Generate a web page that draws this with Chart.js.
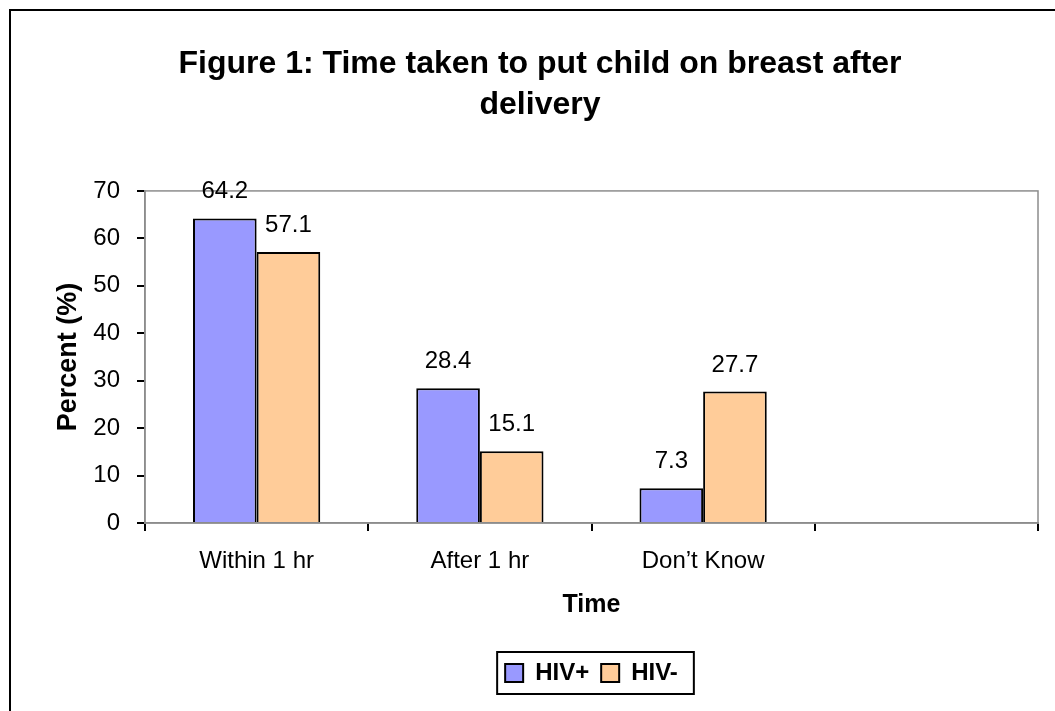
<!DOCTYPE html>
<html>
<head>
<meta charset="utf-8">
<script src="https://cdn.jsdelivr.net/npm/chart.js@4.4.1/dist/chart.umd.min.js"></script>
<style>
  html, body { margin: 0; padding: 0; background: #fff; }
  #wrap { width: 1055px; height: 711px; position: relative; }
</style>
</head>
<body>
<div id="wrap"><canvas id="feedChart"></canvas></div>
<script>
const categories = ['Within 1 hr', 'After 1 hr', 'Don\u2019t Know', ''];
const hivPos = [64.2, 28.4, 7.3, null];
const hivNeg = [57.1, 15.1, 27.7, null];
const titleLines = ['Figure 1: Time taken to put child on breast after', 'delivery'];

const FONT = '"Liberation Sans", Arial, Helvetica, sans-serif';

// outer frame, plot frame, legend box, value labels
const decorations = {
    id: 'decorations',
    afterLayout(chart) {
        // centre the legend under the plot area, not the whole canvas
        const a = chart.chartArea;
        chart.legend.left = a.left;
        chart.legend.right = a.right;
    },
    afterDraw(chart) {
        const ctx = chart.ctx;
        const a = chart.chartArea;
        ctx.save();
        ctx.strokeStyle = '#000';
        ctx.lineWidth = 2;
        ctx.beginPath();
        ctx.moveTo(10, 711);
        ctx.lineTo(10, 10);
        ctx.lineTo(1055, 10);
        ctx.stroke();

        ctx.strokeStyle = '#8c8c8c';
        ctx.lineWidth = 1.5;
        ctx.strokeRect(a.left, a.top, a.right - a.left, a.bottom - a.top);

        const hb = chart.legend.legendHitBoxes;
        if (hb && hb.length) {
            const first = hb[0], last = hb[hb.length - 1];
            ctx.strokeStyle = '#000';
            ctx.lineWidth = 2;
            ctx.strokeRect(first.left - 8, first.top - 9,
                last.left + last.width - first.left + 24, first.height + 18);
        }

        ctx.font = '24px ' + FONT;
        ctx.fillStyle = '#000';
        ctx.textAlign = 'center';
        ctx.textBaseline = 'alphabetic';
        chart.data.datasets.forEach((ds, i) => {
            chart.getDatasetMeta(i).data.forEach((bar, j) => {
                const v = ds.data[j];
                if (v === null) return;
                ctx.fillText(v.toFixed(1), bar.x, bar.y - 20);
            });
        });
        ctx.restore();
    }
};

new Chart(document.getElementById('feedChart'), {
    type: 'bar',
    data: {
        labels: categories,
        datasets: [
            {
                label: 'HIV+',
                data: hivPos,
                backgroundColor: '#9999ff',
                borderColor: '#000',
                borderWidth: 2,
                barPercentage: 1.0,
                categoryPercentage: 0.57
            },
            {
                label: 'HIV-',
                data: hivNeg,
                backgroundColor: '#ffcc99',
                borderColor: '#000',
                borderWidth: 2,
                barPercentage: 1.0,
                categoryPercentage: 0.57
            }
        ]
    },
    options: {
        responsive: true,
        maintainAspectRatio: false,
        animation: false,
        layout: { padding: { left: 42, right: 17, top: 0, bottom: 16 } },
        plugins: {
            title: {
                display: true,
                text: titleLines,
                color: '#000',
                font: { family: FONT, size: 32, weight: 'bold', lineHeight: 1.28 },
                padding: { top: 44, bottom: 65 }
            },
            legend: {
                position: 'bottom',
                labels: {
                    color: '#000',
                    font: { family: FONT, size: 24, weight: 'bold' },
                    boxWidth: 18,
                    boxHeight: 18,
                    padding: 12
                }
            },
            tooltip: { enabled: false }
        },
        scales: {
            x: {
                afterFit: scale => { scale.height = 126; },
                grid: {
                    display: true,
                    drawOnChartArea: false,
                    drawTicks: true,
                    tickLength: 8,
                    color: '#000',
                    lineWidth: 2
                },
                border: { color: '#8c8c8c', width: 1.5 },
                ticks: {
                    color: '#000',
                    font: { family: FONT, size: 24 },
                    padding: 16,
                    maxRotation: 0,
                    autoSkip: false
                },
                title: {
                    display: true,
                    text: 'Time',
                    color: '#000',
                    font: { family: FONT, size: 25, weight: 'bold' },
                    padding: { top: 0, bottom: 29 }
                }
            },
            y: {
                min: 0,
                max: 70,
                afterFit: scale => { scale.width = 103; },
                grid: {
                    display: true,
                    drawOnChartArea: false,
                    drawTicks: true,
                    tickLength: 8,
                    color: '#000',
                    lineWidth: 2
                },
                border: { color: '#8c8c8c', width: 1.5 },
                ticks: {
                    stepSize: 10,
                    color: '#000',
                    font: { family: FONT, size: 24 },
                    padding: 17
                },
                title: {
                    display: true,
                    text: 'Percent (%)',
                    color: '#000',
                    font: { family: FONT, size: 27, weight: 'bold' },
                    padding: { top: 10, bottom: 0 }
                }
            }
        }
    },
    plugins: [decorations]
});
</script>
</body>
</html>
